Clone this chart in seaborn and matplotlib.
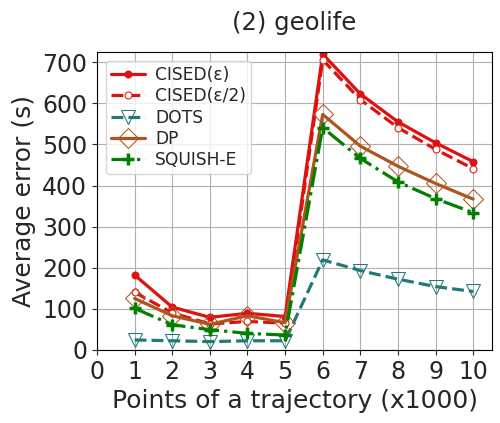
import matplotlib
matplotlib.use("Agg")
import matplotlib.pyplot as plt
import numpy as np
import pandas as pd
import seaborn as sns

points = [1, 2, 3, 4, 5, 6, 7, 8, 9, 10]
cised_eps = [182, 104, 79, 89, 81, 720, 623, 555, 504, 458]
cised_half = [140, 90, 63, 69, 65, 706, 609, 541, 488, 441]
dots = [24, 22, 20, 22, 22, 219, 193, 172, 154, 142]
dp = [125, 83, 62, 83, 66, 573, 496, 447, 405, 367]
squish_e = [101, 61, 49, 40, 36, 541, 466, 409, 368, 334]

sns.set_style("ticks")
plt.rcParams["font.family"] = ["DejaVu Sans"]

fig = plt.figure(figsize=(5.0, 4.23), dpi=100)
ax = fig.add_axes([0.194, 0.173, 0.79, 0.704])

styles = [
    ("CISED(ε)", cised_eps, dict(color="#e01010", linestyle="-", marker="o",
                                 markersize=5, markerfacecolor="#e01010")),
    ("CISED(ε/2)", cised_half, dict(color="#e01010", linestyle="--", marker="o",
                                    markersize=5, markerfacecolor="white")),
    ("DOTS", dots, dict(color="#1f7a7a", linestyle="--", marker="v",
                        markersize=10, markerfacecolor="none")),
    ("DP", dp, dict(color="#b0541f", linestyle="-", marker="D",
                    markersize=10, markerfacecolor="none")),
    ("SQUISH-E", squish_e, dict(color="#007f00", linestyle="-.", marker="+",
                                markersize=8, markeredgewidth=2.5)),
]

for name, vals, kw in styles:
    df = pd.DataFrame({"x": points, "y": vals})
    sns.lineplot(data=df, x="x", y="y", ax=ax, label=name, linewidth=2.3,
                 markeredgecolor=kw["color"], **kw)

ax.set_xlim(0, 10.5)
ax.set_ylim(0, 725)
ax.set_xticks(range(0, 11))
ax.set_yticks(range(0, 701, 100))
ax.tick_params(labelsize=17)
ax.grid(True, color="#b0b0b0", linewidth=0.8)
ax.set_xlabel("Points of a trajectory (x1000)", fontsize=18)
ax.set_ylabel("Average error (s)", fontsize=18)
ax.set_title("(2) geolife", fontsize=17.5, pad=16)
ax.legend(loc="upper left", fontsize=12.3, handlelength=2, borderpad=0.3,
          labelspacing=0.2, handletextpad=0.6)
for s in ax.spines.values():
    s.set_color("black")

fig.savefig("out.png", dpi=100)
